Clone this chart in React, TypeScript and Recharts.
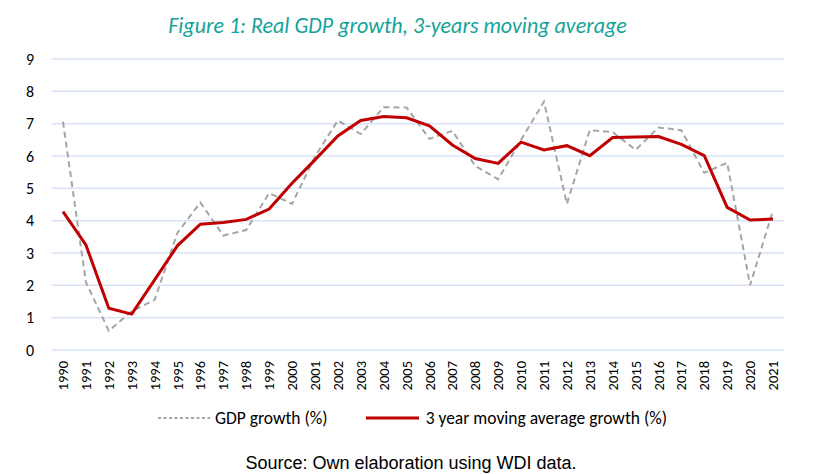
import React from 'react';
import { LineChart, Line, XAxis, YAxis, CartesianGrid, Legend } from 'recharts';

const years = [
  '1990', '1991', '1992', '1993', '1994', '1995', '1996', '1997', '1998', '1999', '2000',
  '2001', '2002', '2003', '2004', '2005', '2006', '2007', '2008', '2009', '2010',
  '2011', '2012', '2013', '2014', '2015', '2016', '2017', '2018', '2019', '2020', '2021',
];

const gdpGrowth = [
  7.06, 2.1, 0.59, 1.2, 1.55, 3.63, 4.56, 3.54, 3.71, 4.85, 4.52,
  5.98, 7.1, 6.68, 7.51, 7.5, 6.53, 6.78, 5.69, 5.28, 6.5,
  7.68, 4.52, 6.8, 6.74, 6.19, 6.88, 6.8, 5.48, 5.79, 2.01, 4.31,
];

const movingAvg = [
  4.28, 3.25, 1.29, 1.11, 2.17, 3.23, 3.89, 3.94, 4.04, 4.36, 5.16,
  5.88, 6.62, 7.1, 7.22, 7.18, 6.93, 6.34, 5.92, 5.77, 6.43,
  6.19, 6.32, 6.01, 6.57, 6.59, 6.6, 6.36, 6.01, 4.41, 4.02, 4.05,
];

const yTicks = [0, 1, 2, 3, 4, 5, 6, 7, 8, 9];

const data = years.map((year, i) => ({
  year,
  gdp: gdpGrowth[i],
  avg: movingAvg[i],
}));

const FONT = 'Carlito, Calibri, Lato, sans-serif';

const YearTick = (props: any) => {
  const { x, y, payload } = props;
  return (
    <text
      x={x}
      y={y + 3}
      transform={`rotate(-90 ${x} ${y + 3})`}
      textAnchor="end"
      dy="0.35em"
      fontSize={14.5}
      fontFamily={FONT}
      fill="#000"
    >
      {payload.value}
    </text>
  );
};

const LegendBox = () => (
  <div style={{ display: 'flex', justifyContent: 'center', alignItems: 'center', paddingLeft: 6, fontFamily: FONT, fontSize: 17.5, color: '#000' }}>
    <svg width={52} height={10} style={{ marginRight: 5 }}>
      <line x1={0} y1={5} x2={52} y2={5} stroke="#A5A5A5" strokeWidth={2} strokeDasharray="3 2.5" />
    </svg>
    <span>GDP growth (%)</span>
    <svg width={53} height={10} style={{ marginLeft: 38, marginRight: 7 }}>
      <line x1={0} y1={5} x2={53} y2={5} stroke="#C00000" strokeWidth={3} />
    </svg>
    <span>3 year moving average growth (%)</span>
  </div>
);

const App = () => {
  return (
    <div style={{ position: 'absolute', left: 0, top: 0, width: 819, height: 474, background: '#fff' }}>
      <div
        style={{
          position: 'absolute', left: 0, top: 12, width: 795, textAlign: 'center',
          fontFamily: FONT, fontStyle: 'italic', fontSize: 22, lineHeight: '28px', color: '#14A39A',
        }}
      >
        Figure 1: Real GDP growth, 3-years moving average
      </div>

      <LineChart width={819} height={474} data={data} margin={{ top: 59, right: 35, left: 0, bottom: 37 }}>
        <CartesianGrid vertical={false} stroke="#D9E2F5" strokeWidth={1.5} />
        <XAxis
          dataKey="year"
          interval={0}
          axisLine={false}
          tickLine={false}
          tick={<YearTick />}
          height={57}
          padding={{ left: 11, right: 11 }}
        />
        <YAxis
          domain={[0, 9]}
          ticks={yTicks}
          width={52}
          axisLine={false}
          tickLine={false}
          tickMargin={12}
          tick={{ fontSize: 16, fill: '#000', fontFamily: FONT }}
        />
        <Legend verticalAlign="bottom" height={30} content={<LegendBox />} wrapperStyle={{ left: 0, width: 819 }} />
        <Line
          type="linear"
          dataKey="gdp"
          name="GDP growth (%)"
          stroke="#A5A5A5"
          strokeWidth={2}
          strokeDasharray="6 4"
          dot={false}
          isAnimationActive={false}
        />
        <Line
          type="linear"
          dataKey="avg"
          name="3 year moving average growth (%)"
          stroke="#C00000"
          strokeWidth={3}
          dot={false}
          isAnimationActive={false}
        />
      </LineChart>

      <div
        style={{
          position: 'absolute', left: 0, top: 452, width: 822, textAlign: 'center',
          fontFamily: '"Liberation Sans Narrow", "Liberation Sans", Arial, sans-serif', fontSize: 18, lineHeight: '22px', color: '#000',
        }}
      >
        Source: Own elaboration using WDI data.
      </div>
    </div>
  );
};

export default App;
